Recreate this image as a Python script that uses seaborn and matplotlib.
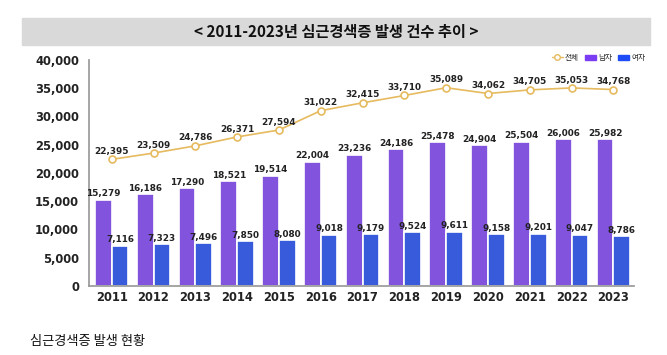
import matplotlib
matplotlib.use('Agg')
import matplotlib.pyplot as plt
import seaborn as sns
import pandas as pd
from matplotlib.patches import Rectangle
from matplotlib.lines import Line2D
from matplotlib.ticker import FuncFormatter

years = ['2011', '2012', '2013', '2014', '2015', '2016', '2017',
         '2018', '2019', '2020', '2021', '2022', '2023']
total = [22395, 23509, 24786, 26371, 27594, 31022, 32415,
         33710, 35089, 34062, 34705, 35053, 34768]
male = [15279, 16186, 17290, 18521, 19514, 22004, 23236,
        24186, 25478, 24904, 25504, 26006, 25982]
female = [7116, 7323, 7496, 7850, 8080, 9018, 9179,
          9524, 9611, 9158, 9201, 9047, 8786]

c_male = '#7B3DF4'
c_female = '#1D4CF6'
c_line = '#E6BA5E'

sns.set_theme(style='white')
plt.rcParams['font.family'] = ['DejaVu Sans', 'Noto Sans CJK KR']

df = pd.DataFrame({'year': years * 2,
                   'count': male + female,
                   'sex': ['남자'] * len(years) + ['여자'] * len(years)})

fig = plt.figure(figsize=(6.67, 3.55), dpi=100)
ax = fig.add_axes([0.133, 0.195, 0.818, 0.636])

sns.barplot(data=df, x='year', y='count', hue='sex', order=years,
            hue_order=['남자', '여자'], palette=[c_male, c_female],
            width=0.8, edgecolor='white', linewidth=1.2, ax=ax, legend=False)
sns.lineplot(x=list(range(len(years))), y=total, color=c_line, linewidth=1.2,
             marker='o', markersize=5, markerfacecolor='white',
             markeredgecolor=c_line, markeredgewidth=1.2, ax=ax)

# data labels
lab = dict(fontsize=6.4, fontweight='bold', color='#222222', ha='center', va='bottom')
for i in range(len(years)):
    ax.text(i - 0.2, male[i] + 250, f'{male[i]:,}', **lab)
    ax.text(i + 0.2, female[i] + 250, f'{female[i]:,}', **lab)
    ax.text(i, total[i] + 600, f'{total[i]:,}', **lab)

ax.set_ylim(0, 40000)
ax.set_xlim(-0.55, 12.5)
ax.set_yticks(range(0, 40001, 5000))
ax.yaxis.set_major_formatter(FuncFormatter(lambda v, p: f'{int(v):,}'))
ax.set_xlabel('')
ax.set_ylabel('')
ax.tick_params(axis='both', labelsize=8.3, colors='#222222', length=0)
ax.tick_params(axis='y', pad=7)
ax.tick_params(axis='x', pad=4)
for t in ax.get_xticklabels() + ax.get_yticklabels():
    t.set_fontweight('bold')
sns.despine(ax=ax)
ax.spines['left'].set_color('#9A9A9A')
ax.spines['bottom'].set_color('#9A9A9A')

handles = [Line2D([0], [0], color=c_line, marker='o', markerfacecolor='white',
                  markersize=4, linewidth=1),
           Rectangle((0, 0), 1, 1, color=c_male),
           Rectangle((0, 0), 1, 1, color=c_female)]
fig.legend(handles, ['전체', '남자', '여자'], loc='center right', ncol=3,
           frameon=False, bbox_to_anchor=(652 / 667, 1 - 58 / 355),
           handlelength=1.4, handleheight=0.6, handletextpad=0.3, columnspacing=0.8,
           prop={'family': ['Noto Sans CJK KR'], 'size': 5.5})

# title banner
fig.patches.append(Rectangle((22 / 667, 1 - 45 / 355), 628 / 667, 27 / 355,
                             transform=fig.transFigure, color='#D9D9D9', zorder=0))
fig.text(336 / 667, 1 - 31.5 / 355, '< 2011-2023년 심근경색증 발생 건수 추이 >',
         ha='center', va='center', fontsize=11, fontweight='bold',
         family=['Noto Sans CJK KR', 'DejaVu Sans'], color='#111111')
fig.text(30 / 667, 1 - 342 / 355, '심근경색증 발생 현황', ha='left', va='center',
         fontsize=9.5, family=['Noto Sans CJK KR', 'DejaVu Sans'], color='#111111')

fig.savefig('out.png', dpi=100)
